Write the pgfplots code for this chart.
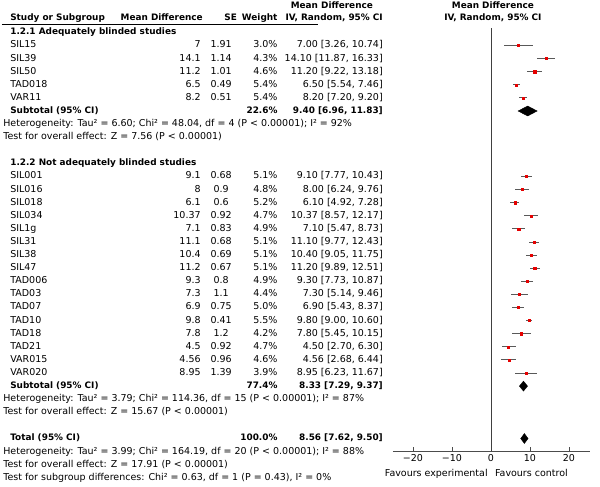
\documentclass[border=0pt]{standalone}
\usepackage{pgfplots}
\pgfplotsset{compat=1.18}
\usepackage{pgfplotstable}
\usepackage{fontspec}
\setmainfont{DejaVu Sans}

% row: 0 = first study, one row = 13.1pt
\pgfplotstableread{
row md lo hi
0 7.00 3.26 10.74
1 14.10 11.87 16.33
2 11.20 9.22 13.18
3 6.50 5.54 7.46
4 8.20 7.20 9.20
10 9.10 7.77 10.43
11 8.00 6.24 9.76
12 6.10 4.92 7.28
13 10.37 8.57 12.17
14 7.10 5.47 8.73
15 11.10 9.77 12.43
16 10.40 9.05 11.75
17 11.20 9.89 12.51
18 9.30 7.73 10.87
19 7.30 5.14 9.46
20 6.90 5.43 8.37
21 9.80 9.00 10.60
22 7.80 5.45 10.15
23 4.50 2.70 6.30
24 4.56 2.68 6.44
25 8.95 6.23 11.67
}\studies

\newcommand{\rf}{\fontsize{9.5}{11}\selectfont}
\newcommand{\bd}{\fontsize{8.9}{11}\selectfont\bfseries}
\tikzset{cell/.style={inner sep=0pt, font=\rf,
  text height=6.8pt, text depth=1.9pt}}
% columns (axis units)
\def\Lh{-125.1}  \def\Ls{-123.3}
\def\cMD{-73.1}  \def\cSE{-69.2}  \def\cW{-54.7}  \def\cCI{-27.7}
\newcommand{\lft}[2]{\node[cell,anchor=west] at (axis cs:\Ls,#1) {#2};}
\newcommand{\note}[2]{\node[cell,anchor=west] at (axis cs:\Lh,#1) {#2};}
\newcommand{\rgt}[3]{\node[cell,anchor=east] at (axis cs:#1,#2) {#3};}
\newcommand{\study}[6]{% row name md se weight ci
  \lft{#1}{#2}\rgt{\cMD}{#1}{#3}%
  \node[cell] at (axis cs:\cSE,#1) {#4};%
  \rgt{\cW}{#1}{#5}\rgt{\cCI}{#1}{#6}}

\begin{document}
\begin{tikzpicture}
\begin{axis}[
  scale only axis, width=197pt, height=451pt,
  xmin=-25.13, xmax=25.38,
  ymin=-3.473, ymax=30.95, y dir=reverse,
  axis x line*=bottom, axis y line=none,
  clip=false,
  xtick={-20,-10,0,10,20},
  xticklabels={−20,−10,0,10,20},
  xtick align=inside, major tick length=4pt,
  xticklabel style={font=\rf, inner sep=1pt, yshift=-2.5pt},
  axis line style={black!70, line width=0.6pt},
  tick style={black!70, line width=0.6pt},
]
% zero line and header rule
\addplot[black!75, line width=0.6pt] coordinates {(0,-1.3) (0,30.95)};
\addplot[black, line width=0.7pt] coordinates {(-125.4,-1.6) (-44.3,-1.6)};

% study CIs and points
\addplot[only marks, mark=square*, mark size=1.05pt, color=red!90!black,
  error bars/.cd, x dir=both, x explicit,
  error bar style={black!65, line width=0.9pt}, error mark=none]
  table[x=md, y=row,
        x error plus expr=\thisrow{hi}-\thisrow{md},
        x error minus expr=\thisrow{md}-\thisrow{lo}] {\studies};

% pooled diamonds
\addplot[fill=black, draw=black] coordinates {(6.96,5) (9.40,4.62) (11.83,5) (9.40,5.38)} -- cycle;
\addplot[fill=black, draw=black] coordinates {(7.29,26) (8.33,25.62) (9.37,26) (8.33,26.38)} -- cycle;
\addplot[fill=black, draw=black] coordinates {(7.62,30) (8.56,29.62) (9.50,30) (8.56,30.38)} -- cycle;

% headers
\node[cell,font=\bd] at (axis cs:-40.8,-3.02) {Mean Difference};
\node[cell,font=\bd] at (axis cs:0.5,-3.02) {Mean Difference};
\node[cell,font=\bd] at (axis cs:0.5,-2.1) {IV, Random, 95\% CI};
\lft{-2.1}{\bd Study or Subgroup}
\rgt{-73.85}{-2.1}{\bd Mean Difference}
\rgt{-65.1}{-2.1}{\bd SE}
\rgt{\cW}{-2.1}{\bd Weight}
\rgt{\cCI}{-2.1}{\bd IV, Random, 95\% CI}

% group 1
\lft{-1}{\bd 1.2.1 Adequately blinded studies}
\study{0}{SIL15}{7}{1.91}{3.0\%}{7.00 [3.26, 10.74]}
\study{1}{SIL39}{14.1}{1.14}{4.3\%}{14.10 [11.87, 16.33]}
\study{2}{SIL50}{11.2}{1.01}{4.6\%}{11.20 [9.22, 13.18]}
\study{3}{TAD018}{6.5}{0.49}{5.4\%}{6.50 [5.54, 7.46]}
\study{4}{VAR11}{8.2}{0.51}{5.4\%}{8.20 [7.20, 9.20]}
\lft{5}{\bd Subtotal (95\% CI)}
\rgt{\cW}{5}{\bd 22.6\%}
\rgt{\cCI}{5}{\bd 9.40 [6.96, 11.83]}
\note{6}{Heterogeneity: Tau² = 6.60; Chi² = 48.04, df = 4 (P < 0.00001); I² = 92\%}
\note{7}{Test for overall effect: Z = 7.56 (P < 0.00001)}

% group 2
\def\cMD{-74.4}
\lft{9}{\bd 1.2.2 Not adequately blinded studies}
\study{10}{SIL001}{9.1}{0.68}{5.1\%}{9.10 [7.77, 10.43]}
\study{11}{SIL016}{8}{0.9}{4.8\%}{8.00 [6.24, 9.76]}
\study{12}{SIL018}{6.1}{0.6}{5.2\%}{6.10 [4.92, 7.28]}
\study{13}{SIL034}{10.37}{0.92}{4.7\%}{10.37 [8.57, 12.17]}
\study{14}{SIL1g}{7.1}{0.83}{4.9\%}{7.10 [5.47, 8.73]}
\study{15}{SIL31}{11.1}{0.68}{5.1\%}{11.10 [9.77, 12.43]}
\study{16}{SIL38}{10.4}{0.69}{5.1\%}{10.40 [9.05, 11.75]}
\study{17}{SIL47}{11.2}{0.67}{5.1\%}{11.20 [9.89, 12.51]}
\study{18}{TAD006}{9.3}{0.8}{4.9\%}{9.30 [7.73, 10.87]}
\study{19}{TAD03}{7.3}{1.1}{4.4\%}{7.30 [5.14, 9.46]}
\study{20}{TAD07}{6.9}{0.75}{5.0\%}{6.90 [5.43, 8.37]}
\study{21}{TAD10}{9.8}{0.41}{5.5\%}{9.80 [9.00, 10.60]}
\study{22}{TAD18}{7.8}{1.2}{4.2\%}{7.80 [5.45, 10.15]}
\study{23}{TAD21}{4.5}{0.92}{4.7\%}{4.50 [2.70, 6.30]}
\study{24}{VAR015}{4.56}{0.96}{4.6\%}{4.56 [2.68, 6.44]}
\study{25}{VAR020}{8.95}{1.39}{3.9\%}{8.95 [6.23, 11.67]}
\lft{26}{\bd Subtotal (95\% CI)}
\rgt{\cW}{26}{\bd 77.4\%}
\rgt{\cCI}{26}{\bd 8.33 [7.29, 9.37]}
\note{27}{Heterogeneity: Tau² = 3.79; Chi² = 114.36, df = 15 (P < 0.00001); I² = 87\%}
\note{28}{Test for overall effect: Z = 15.67 (P < 0.00001)}

% total
\lft{30}{\bd Total (95\% CI)}
\rgt{\cW}{30}{\bd 100.0\%}
\rgt{\cCI}{30}{\bd 8.56 [7.62, 9.50]}
\note{31}{Heterogeneity: Tau² = 3.99; Chi² = 164.19, df = 20 (P < 0.00001); I² = 88\%}
\note{32}{Test for overall effect: Z = 17.91 (P < 0.00001)}
\note{33}{Test for subgroup differences: Chi² = 0.63, df = 1 (P = 0.43), I² = 0\%}

\rgt{-0.8}{32.7}{Favours experimental}
\node[cell,anchor=west] at (axis cs:1.0,32.7) {Favours control};

\coordinate (tl) at (axis cs:-125.9,-3.473);
\coordinate (br) at (axis cs:27.95,33.63);
\end{axis}
\pgfresetboundingbox
\path (tl) rectangle (br);
\end{tikzpicture}
\end{document}
